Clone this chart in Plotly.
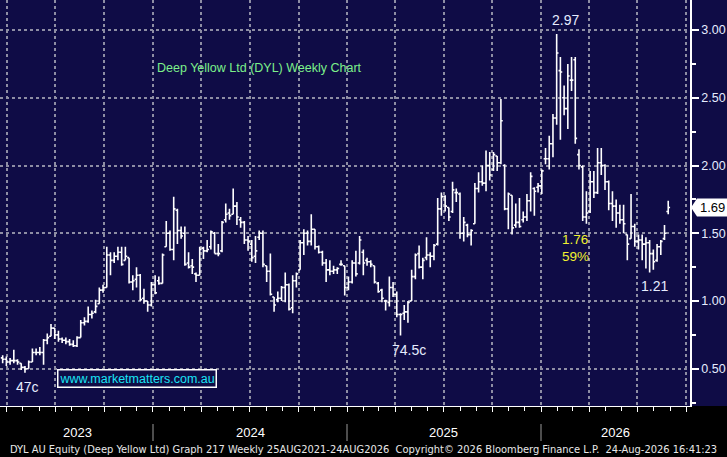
import pandas as pd
import plotly.graph_objects as go

# weekly bars, DYL AU (Deep Yellow Ltd)
opens = [
    0.58, 0.57, 0.55, 0.56, 0.56, 0.54, 0.51, 0.50, 0.55, 0.62, 0.62, 0.62, 0.71, 0.74, 0.80, 0.75,
    0.72, 0.71, 0.70, 0.68, 0.67, 0.73, 0.84, 0.85, 0.90, 0.92, 0.98, 1.08, 1.10, 1.34, 1.30, 1.33,
    1.36, 1.30, 1.32, 1.14, 1.16, 1.19, 1.02, 1.00, 0.97, 1.12, 1.15, 1.13, 1.40, 1.50, 1.38, 1.67,
    1.52, 1.50, 1.28, 1.26, 1.20, 1.19, 1.39, 1.37, 1.40, 1.50, 1.35, 1.37, 1.60, 1.65, 1.64, 1.70,
    1.60, 1.58, 1.45, 1.42, 1.33, 1.47, 1.50, 1.26, 1.22, 1.03, 1.01, 1.02, 1.10, 1.12, 0.95, 1.15,
    1.23, 1.43, 1.50, 1.44, 1.53, 1.40, 1.36, 1.28, 1.23, 1.22, 1.23, 1.27, 1.26, 1.10, 1.14, 1.28,
    1.28, 1.36, 1.30, 1.29, 1.26, 1.13, 1.08, 1.00, 0.99, 1.10, 1.05, 0.90, 0.91, 0.92, 1.00, 1.18,
    1.35, 1.25, 1.32, 1.34, 1.33, 1.42, 1.68, 1.77, 1.69, 1.66, 1.80, 1.79, 1.50, 1.56, 1.49, 1.57,
    1.83, 1.88, 1.87, 2.00, 1.97, 2.07, 2.02, 2.00, 1.68, 1.78, 1.56, 1.58, 1.60, 1.62, 1.74, 1.83,
    1.84, 1.85, 2.05, 2.05, 2.16, 2.35, 2.70, 2.50, 2.42, 2.63, 2.78, 2.08, 1.99, 1.62, 1.66, 1.88,
    1.80, 2.02, 2.00, 1.88, 1.72, 1.70, 1.65, 1.60, 1.49, 1.46, 1.55, 1.44, 1.45, 1.42, 1.43, 1.35,
    1.30, 1.40, 1.46, 1.66,
]
highs = [
    0.60, 0.59, 0.58, 0.64, 0.57, 0.54, 0.52, 0.56, 0.65, 0.65, 0.66, 0.72, 0.76, 0.83, 0.80, 0.78,
    0.73, 0.73, 0.72, 0.71, 0.74, 0.86, 0.88, 0.96, 0.93, 1.01, 1.10, 1.12, 1.40, 1.36, 1.36, 1.40,
    1.40, 1.40, 1.32, 1.19, 1.25, 1.20, 1.09, 1.00, 1.14, 1.19, 1.18, 1.35, 1.59, 1.52, 1.77, 1.68,
    1.55, 1.55, 1.36, 1.31, 1.21, 1.40, 1.40, 1.45, 1.52, 1.51, 1.42, 1.59, 1.72, 1.68, 1.83, 1.73,
    1.62, 1.59, 1.48, 1.45, 1.48, 1.52, 1.52, 1.26, 1.35, 1.03, 1.07, 1.11, 1.21, 1.13, 1.19, 1.21,
    1.45, 1.53, 1.52, 1.64, 1.53, 1.41, 1.37, 1.31, 1.30, 1.26, 1.25, 1.30, 1.26, 1.18, 1.30, 1.37,
    1.48, 1.38, 1.32, 1.30, 1.26, 1.14, 1.09, 1.01, 1.18, 1.14, 1.07, 0.91, 0.97, 1.00, 1.23, 1.35,
    1.41, 1.32, 1.47, 1.36, 1.42, 1.76, 1.80, 1.78, 1.69, 1.88, 1.83, 1.80, 1.62, 1.57, 1.53, 1.87,
    1.95, 2.00, 2.11, 2.10, 2.10, 2.07, 2.49, 2.01, 1.80, 1.78, 1.72, 1.76, 1.66, 1.79, 1.95, 1.84,
    1.87, 1.97, 2.13, 2.22, 2.38, 2.97, 2.80, 2.59, 2.75, 2.80, 2.80, 2.12, 2.00, 1.81, 1.96, 1.96,
    2.13, 2.13, 2.01, 1.89, 1.81, 1.75, 1.71, 1.71, 1.49, 1.79, 1.57, 1.49, 1.49, 1.47, 1.45, 1.38,
    1.42, 1.45, 1.56, 1.74,
]
lows = [
    0.54, 0.52, 0.53, 0.54, 0.53, 0.49, 0.47, 0.50, 0.55, 0.60, 0.60, 0.53, 0.68, 0.74, 0.72, 0.70,
    0.69, 0.68, 0.67, 0.66, 0.66, 0.73, 0.82, 0.84, 0.87, 0.91, 0.98, 1.06, 1.10, 1.19, 1.28, 1.30,
    1.26, 1.30, 1.13, 1.08, 1.10, 1.00, 0.98, 0.92, 0.96, 1.05, 1.12, 1.13, 1.40, 1.37, 1.30, 1.42,
    1.46, 1.26, 1.24, 1.20, 1.14, 1.19, 1.31, 1.36, 1.38, 1.35, 1.33, 1.36, 1.58, 1.60, 1.64, 1.56,
    1.54, 1.42, 1.37, 1.29, 1.28, 1.45, 1.25, 1.14, 1.04, 0.92, 0.99, 1.00, 0.99, 0.93, 0.91, 1.10,
    1.23, 1.34, 1.41, 1.41, 1.38, 1.35, 1.26, 1.14, 1.19, 1.20, 1.20, 1.26, 1.04, 1.08, 1.13, 1.18,
    1.27, 1.19, 1.26, 1.25, 1.13, 1.06, 0.99, 0.93, 0.96, 1.03, 0.88, 0.745, 0.86, 0.84, 1.00, 1.16,
    1.24, 1.16, 1.30, 1.25, 1.30, 1.41, 1.63, 1.66, 1.59, 1.65, 1.73, 1.46, 1.44, 1.47, 1.41, 1.57,
    1.80, 1.85, 1.81, 1.89, 1.96, 1.96, 2.01, 1.67, 1.53, 1.49, 1.54, 1.54, 1.58, 1.59, 1.66, 1.63,
    1.80, 1.79, 2.01, 1.97, 2.06, 2.30, 2.19, 2.37, 2.27, 2.55, 2.16, 1.97, 1.59, 1.57, 1.65, 1.76,
    1.79, 1.93, 1.82, 1.67, 1.59, 1.54, 1.57, 1.50, 1.30, 1.46, 1.40, 1.38, 1.30, 1.24, 1.21, 1.23,
    1.29, 1.34, 1.45, 1.64,
]
closes = [
    0.57, 0.55, 0.56, 0.56, 0.55, 0.51, 0.50, 0.55, 0.62, 0.62, 0.62, 0.71, 0.73, 0.80, 0.75, 0.72,
    0.71, 0.70, 0.68, 0.67, 0.73, 0.84, 0.85, 0.90, 0.91, 0.96, 1.08, 1.10, 1.34, 1.30, 1.33, 1.36,
    1.27, 1.33, 1.14, 1.15, 1.19, 1.01, 1.00, 0.97, 1.12, 1.06, 1.13, 1.34, 1.50, 1.38, 1.68, 1.52,
    1.48, 1.27, 1.25, 1.25, 1.19, 1.38, 1.37, 1.38, 1.51, 1.35, 1.35, 1.58, 1.64, 1.63, 1.70, 1.62,
    1.58, 1.45, 1.44, 1.32, 1.37, 1.50, 1.27, 1.22, 1.05, 0.97, 1.02, 1.10, 1.12, 0.94, 1.15, 1.20,
    1.43, 1.50, 1.44, 1.53, 1.40, 1.36, 1.28, 1.23, 1.22, 1.23, 1.24, 1.27, 1.10, 1.14, 1.28, 1.20,
    1.45, 1.28, 1.29, 1.27, 1.14, 1.07, 1.02, 1.00, 1.10, 1.05, 0.90, 0.90, 0.92, 0.99, 1.18, 1.34,
    1.25, 1.30, 1.34, 1.33, 1.41, 1.68, 1.77, 1.70, 1.62, 1.82, 1.80, 1.50, 1.58, 1.49, 1.52, 1.83,
    1.88, 1.87, 2.00, 1.93, 2.08, 2.02, 2.33, 1.68, 1.79, 1.54, 1.58, 1.55, 1.62, 1.74, 1.92, 1.81,
    1.85, 1.96, 2.05, 2.16, 2.35, 2.83, 2.69, 2.42, 2.66, 2.63, 2.20, 2.00, 1.62, 1.65, 1.88, 1.80,
    2.02, 2.00, 1.88, 1.72, 1.70, 1.65, 1.60, 1.57, 1.42, 1.55, 1.44, 1.45, 1.42, 1.43, 1.35, 1.29,
    1.40, 1.44, 1.50, 1.69,
]
weeks = pd.date_range(end="2026-08-28", periods=len(closes), freq="W-FRI")

year_labels = ["2023", "2024", "2025", "2026"]
price_ticks = [0.5, 1.0, 1.5, 2.0, 2.5, 3.0]
last_price = 1.69

NAVY = "#0f0c46"
GRID = "#8e8ea4"
W, H = 727, 457
PLOT_W, PLOT_H = 690, 406


def px(x):
    return x / PLOT_W


def py(y):
    return (PLOT_H - y) / PLOT_H


fig = go.Figure(go.Ohlc(
    x=weeks, open=opens, high=highs, low=lows, close=closes,
    increasing_line_color="white", decreasing_line_color="white",
    line_width=1.6, tickwidth=0.5, hoverinfo="skip",
))

fig.update_layout(
    width=W, height=H,
    margin=dict(l=0, r=W - PLOT_W, t=0, b=H - PLOT_H),
    paper_bgcolor="black", plot_bgcolor=NAVY,
    showlegend=False,
    font=dict(family="Liberation Sans, Arial, sans-serif", color="#e6ecff"),
    xaxis=dict(
        type="date", range=["2023-03-19", "2026-10-08"],
        rangeslider_visible=False,
        dtick="M3", tick0="2023-01-01",
        showgrid=True, gridcolor=GRID, gridwidth=2, griddash="dot",
        showticklabels=False, ticks="outside", ticklen=5, tickcolor="white",
        minor=dict(dtick="M1", ticks="outside", ticklen=4, tickcolor="white", showgrid=False),
        showline=True, linecolor="white", linewidth=1, zeroline=False,
    ),
    yaxis=dict(
        side="right", range=[3.0 - 376 / 135.5, 3.0 + 30 / 135.5],
        tickvals=price_ticks, tickformat=".2f",
        tickfont=dict(size=12.5, color="#e6ecff"),
        showgrid=True, gridcolor=GRID, gridwidth=2, griddash="dot",
        ticks="outside", ticklen=7, tickwidth=2, tickcolor="white",
        minor=dict(dtick=0.25, ticks="outside", ticklen=4, tickcolor="white", showgrid=False),
        showline=True, linecolor="white", linewidth=1.5, zeroline=False,
    ),
)

shapes = [
    # navy strip behind the price scale
    dict(type="rect", xref="paper", yref="paper", x0=1, x1=W / PLOT_W, y0=0, y1=1,
         fillcolor=NAVY, line_width=0, layer="below"),
    # last price flag
    dict(type="path", xref="paper", yref="y",
         path=(f"M {px(691)},{last_price} L {px(697)},{last_price + 9 / 135.5} "
               f"L {px(727)},{last_price + 9 / 135.5} L {px(727)},{last_price - 9 / 135.5} "
               f"L {px(697)},{last_price - 9 / 135.5} Z"),
         fillcolor="white", line_width=0),
]
for sx in [153, 347, 541]:
    shapes.append(dict(type="line", xref="paper", yref="paper", x0=px(sx), x1=px(sx),
                       y0=py(441), y1=py(424), line=dict(color="#9a9a9a", width=1)))
fig.update_layout(shapes=shapes)

notes = [
    ("Deep Yellow Ltd (DYL) Weekly Chart", 259.5, 68, "#7cf08a", 12.5),
    ("2.97", 565, 20, "#e6ecff", 14),
    ("1.76", 575, 240, "#f2f230", 13.5),
    ("59%", 575, 256, "#f2f230", 13.5),
    ("1.21", 654, 286, "#e6ecff", 14),
    ("74.5c", 409, 350, "#e6ecff", 14),
    ("47c", 28, 387, "#e6ecff", 14),
]
for text, x, y, color, size in notes:
    fig.add_annotation(text=text, xref="paper", yref="paper", x=px(x), y=py(y),
                       xanchor="center", yanchor="middle", showarrow=False,
                       font=dict(color=color, size=size))

fig.add_annotation(text="www.marketmatters.com.au", xref="paper", yref="paper",
                   x=px(137), y=py(378), xanchor="center", yanchor="middle", showarrow=False,
                   font=dict(color="#19e3f5", size=12.5), bgcolor=NAVY,
                   bordercolor="white", borderwidth=1.5, borderpad=1)

fig.add_annotation(text=f"{last_price:.2f}", xref="paper", yref="y", x=px(712), y=last_price,
                   xanchor="center", yanchor="middle", showarrow=False,
                   font=dict(color="black", size=13))

for label, x in zip(year_labels, [77, 250, 444, 615]):
    fig.add_annotation(text=label, xref="paper", yref="paper", x=px(x), y=py(432),
                       xanchor="center", yanchor="middle", showarrow=False,
                       font=dict(color="white", size=13))

fig.add_annotation(
    text=("DYL AU Equity (Deep Yellow Ltd) Graph 217 Weekly 25AUG2021-24AUG2026  "
          "Copyright\u00a9 2026 Bloomberg Finance L.P.  24-Aug-2026 16:41:23"),
    xref="paper", yref="paper", x=px(363.5), y=py(449), xanchor="center", yanchor="middle",
    showarrow=False, font=dict(color="#e8e8e8", size=11,
                               family="DejaVu Sans Condensed, Liberation Sans Narrow, sans-serif"))

# the page's default 8px body margin would shift the figure
fig.write_html("out.html", config={"displayModeBar": False},
               post_script="document.body.style.margin='0px';")
